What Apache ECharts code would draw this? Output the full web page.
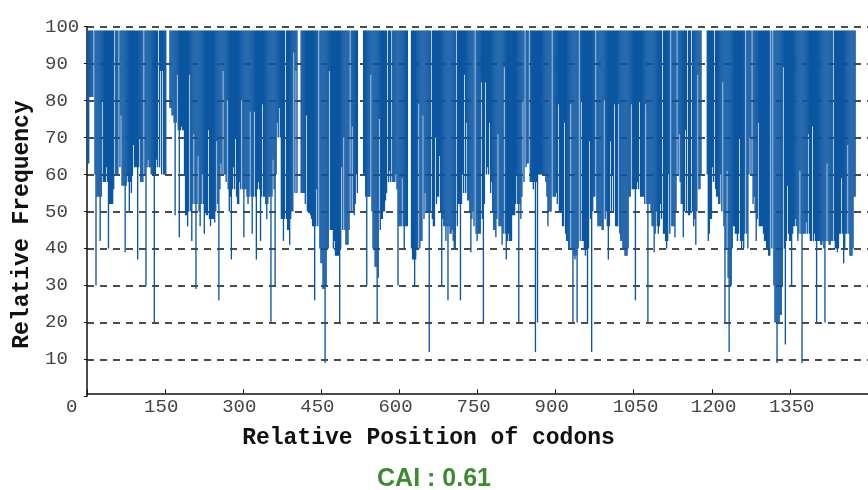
<!DOCTYPE html>
<html>
<head>
<meta charset="utf-8">
<script src="https://cdn.jsdelivr.net/npm/echarts@6/dist/echarts.min.js"></script>
<style>html,body{margin:0;padding:0;background:#fff;}#c{width:868px;height:490px;}</style>
</head>
<body>
<div id="c"></div>
<script>
// Relative frequency per window of 2 codons, split by region
const BIN = 2;
const freqA = [63,63,81,81,81,81,100,60,30,54,54,54,42,54,80,58,58,58,62,58,40,52,52,52,52,56,100,60,60,60,100,62,76,57,57,57,39,57,60,58,50,58,55,60,68,62,62,62,37,62,70,58,58,58,100,60,30,62,64,62,62,60,60,60,20,60,64,62,100,62,88,60,88,60,60,60,100,100,100,78,78,76,76,74,49,74,87,72,43,72,73,72,72,60];
const freqB = [49,49,46,50,87,50,42,52,71,52,29,52,65,50,46,52,60,52,44,50,49,49,72,48,46,48,48,48,47,50,69,52,26,56,63,60,88,60,60,58,80,56,50,54,37,56,62,56,70,54,52,52,58,56,80,56,43,56,56,54,52,54,77,54,44,54,77,54,37,56,58,56,42,54,79,54,54,52,48,52,54,54,20,54,64,56,30,60,74,70,78,70];
const freqC = [48,48,42,48,100,48,45,45,41,48,50,50,93,55,88,55,100,100,100,55,55,55,55,52,76,50,50,50,49,48,46,46,26,46,56,46,100,40,36,36,29,29,9,30,40,40,88,45,45,45,40,42,38,38,38,38,20,40,62,45,70,45,41,41,41,45,100,50,73,50,49,52,60,55,100,100,100,100,100,60,60,54,30,54,54,54,87,50,40,40,35,35,20,32,75,45,48,48,50,50,53,55,100,58,61,58,100,58,58,58,60,56];
const freqD = [30,46,46,46,59,46,40,46,46,46,100,100,100,40,37,37,30,37,40,40,79,40,42,42,76,48,55,50,50,50,12,50,100,48,46,46,70,52,54,54,65,50,30,48,46,46,42,46,26,46,44,44,45,42,40,40,100,46,52,52,26,52,60,55,87,55,74,53,53,50,39,48,50,46,100,44,42,44,44,44,85,48,20,52,85,60,62,60,74,55,58,50,45,45,43,48,71,46,46,46,41,44,89,44,37,42,44,42,42,42];
const freqE = [49,49,49,52,60,52,20,52,48,54,80,58,100,62,63,63,100,58,58,58,56,58,12,58,20,60,60,60,60,60,60,60,58,54,46,50,50,50,100,54,54,54,55,52,79,50,50,50,46,46,74,44,42,42,40,40,79,40,20,38,37,38,20,40,100,42,80,42,42,40,38,40,20,40,69,48,12,50,54,54,100,50,46,46,46,46,45,45,80,48,50,46,37,46,69,50,60,50,79,46,46,46,79,44,42,42,40,40,38,38,38,40];
const freqF = [54,54,79,56,56,56,26,56,58,56,80,54,54,54,54,52,79,52,20,52,52,50,46,46,39,44,50,46,44,46,52,48,100,44,44,42,40,42,60,44,100,46,46,46,43,50,100,60,71,58,52,52,43,50,72,50,100,49,49,50,100,50,46,48,41,50,87,56,56,60,100,100,100,100,100,60,42,44,48,48,62,58,100,56,54,54,52,52,60,50,85,46,20,40,61,32,12,30,30,40,46,46,44,44,42,44,70,42,40,42,40,44];
const freqG = [100,44,40,60,70,60,100,52,54,50,42,48,74,46,46,46,46,44,42,42,40,40,38,38,100,40,100,30,20,20,9,20,20,22,22,30,89,40,14,42,57,44,42,42,30,44,46,46,48,46,42,44,61,44,9,44,44,44,47,44,71,44,42,42,73,42,44,42,20,42,42,42,41,41,42,40,20,42,63,42,41,41,42,42,100,42,40,40,39,40,44,44,59,44,36,40,44,44,68,44,38,38,38,40,54,54];
const xTicks = [0,150,300,450,600,750,900,1050,1200,1350];
const yTicks = [10,20,30,40,50,60,70,80,90,100];
const caiText = 'CAI : 0.61';

const freq = [].concat(freqA, freqB, freqC, freqD, freqE, freqF, freqG);
const data = freq.map((v, i) => [i * BIN, v]);
const TOP = 99;
const BLUE = '#0b56a2';

const chart = echarts.init(document.getElementById('c'), null, {renderer: 'canvas'});
chart.setOption({
  animation: false,
  backgroundColor: '#ffffff',
  title: {
    text: caiText, left: 'center', top: 462,
    textStyle: {fontFamily: 'Liberation Sans', fontWeight: 'bold', fontSize: 25, color: '#3d8b30'}
  },
  grid: {left: 87, top: 26.7, width: 781.3, height: 369.6},
  xAxis: {
    type: 'value', min: 0, max: 1500, interval: 150, offset: -3,
    name: 'Relative Position of codons', nameLocation: 'middle', nameGap: 33,
    nameTextStyle: {fontFamily: 'Liberation Mono', fontWeight: 'bold', fontSize: 23, color: '#111', padding: [0, 98, 0, 0]},
    axisLine: {show: true, lineStyle: {color: '#111', width: 1.5}},
    axisTick: {show: true, inside: true, length: 4, lineStyle: {color: '#111'}},
    splitLine: {show: false},
    axisLabel: {
      showMaxLabel: false, margin: 4,
      formatter: v => xTicks.indexOf(v) >= 0 ? '{a|' + v + '}' : '',
      rich: {a: {width: 42, align: 'left', fontFamily: 'Liberation Mono', fontSize: 19, color: '#444'}}
    }
  },
  yAxis: {
    type: 'value', min: 0, max: 100, interval: 10,
    name: 'Relative Frequency', nameLocation: 'middle', nameGap: 50, nameRotate: 90,
    nameTextStyle: {fontFamily: 'Liberation Mono', fontWeight: 'bold', fontSize: 23, color: '#111', padding: [0, 26, 0, 0]},
    axisLine: {show: true, lineStyle: {color: '#111', width: 1.5}},
    axisTick: {show: true, length: 3, lineStyle: {color: '#111'}},
    axisLabel: {
      align: 'left', margin: 42, fontFamily: 'Liberation Mono', fontSize: 19, color: '#444',
      formatter: v => yTicks.indexOf(v) >= 0 ? String(v) : ''
    },
    splitLine: {show: true, showMinLine: false, lineStyle: {color: '#111', type: [7, 6], width: 1.5}}
  },
  series: [{
    type: 'custom',
    data: data,
    encode: {x: 0, y: 1},
    clip: true,
    renderItem: function (params, api) {
      const x0 = api.value(0), v = api.value(1);
      if (v >= TOP) return {type: 'group', children: []};
      const p1 = api.coord([x0, TOP]);
      const p2 = api.coord([x0 + BIN, v]);
      return {
        type: 'rect',
        shape: {x: p1[0], y: p1[1], width: p2[0] - p1[0] + 0.3, height: p2[1] - p1[1]},
        style: {fill: BLUE}
      };
    }
  }]
});
</script>
</body>
</html>
